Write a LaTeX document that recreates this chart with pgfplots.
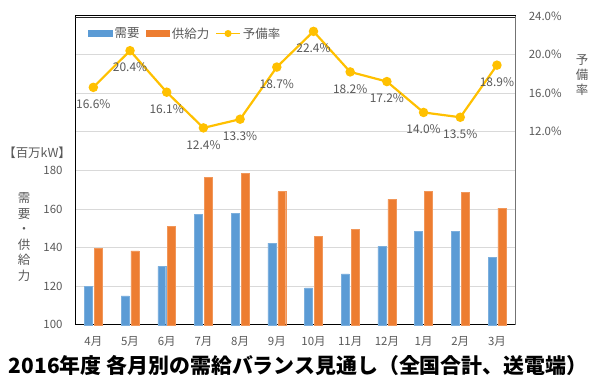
\documentclass[border=0pt]{standalone}
\usepackage{pgfplots}
\pgfplotsset{compat=1.18}
\usepackage{fontspec}
\setmainfont{Noto Sans CJK JP}
\definecolor{cdem}{HTML}{5B9BD5}
\definecolor{csup}{HTML}{ED7D31}
\definecolor{cres}{HTML}{FFC000}
\definecolor{ctxt}{HTML}{595959}
\definecolor{cgrid}{HTML}{D9D9D9}
\pgfplotsset{reslegend/.style={legend image code/.code={\draw[##1, mark repeat=2, mark phase=2] plot coordinates {(0pt,0pt) (12pt,0pt) (24pt,0pt)};}}}
\begin{document}
\begin{tikzpicture}[x=1pt,y=1pt]
\path (0,0) rectangle (595,386);
\begin{axis}[
  at={(73pt,60pt)}, anchor=south west,
  scale only axis, width=442pt, height=310pt,
  xmin=-0.5, xmax=11.5,
  ymin=100, ymax=260,
  xtick={0,...,11},
  xticklabels={4月,5月,6月,7月,8月,9月,10月,11月,12月,1月,2月,3月},
  ytick={100,120,...,240},
  yticklabels={100,120,140,160,180,,,},
  major tick length=0pt,
  ymajorgrids, grid style={cgrid, line width=0.8pt},
  axis line style={black, line width=0.9pt},
  tick label style={font=\fontsize{11.5}{12}\selectfont, text=ctxt},
  /pgf/number format/assume math mode=true,
  xticklabel style={yshift=-8pt},
  yticklabel style={xshift=-9pt},
  legend style={draw=none, fill=none, at={(0.03,0.943)}, anchor=west,
    font=\fontsize{12.5}{13}\selectfont, text=ctxt,
    legend columns=-1, /tikz/every even column/.append style={column sep=4pt},
    inner sep=0pt, cells={anchor=west}},
  legend cell align=left,
  clip=false,
]
\addplot[ybar, bar width=0.217, bar shift=-0.135, fill=cdem, draw=cdem!80!white,
  legend image code/.code={\fill[cdem] (0pt,-3pt) rectangle (24pt,3pt);}]
  coordinates {(0,119.8) (1,115.0) (2,130.3) (3,157.1) (4,157.6) (5,142.3)
               (6,119.1) (7,126.3) (8,140.6) (9,148.5) (10,148.3) (11,134.9)};
\addlegendentry{需要}
\addplot[ybar, bar width=0.217, bar shift=0.135, fill=csup, draw=csup!80!white,
  legend image code/.code={\fill[csup] (0pt,-3pt) rectangle (24pt,3pt);}]
  coordinates {(0,139.6) (1,138.3) (2,151.1) (3,176.5) (4,178.6) (5,169.0)
               (6,145.8) (7,149.5) (8,164.9) (9,169.1) (10,168.5) (11,160.4)};
\addlegendentry{供給力}
\addlegendimage{cres, line width=1.8pt, mark=*, mark size=2.6pt, reslegend}
\addlegendentry{予備率}
\end{axis}
\begin{axis}[
  at={(73pt,60pt)}, anchor=south west,
  scale only axis, width=442pt, height=310pt,
  xmin=-0.5, xmax=11.5,
  ymin=-8, ymax=24,
  axis x line=none,
  axis y line*=right,
  ytick={12,16,20,24},
  yticklabels={12.0\%,16.0\%,20.0\%,24.0\%},
  major tick length=0pt,
  axis line style={draw=black!55, line width=1.2pt},
  tick label style={font=\fontsize{11.5}{12}\selectfont, text=ctxt},
  yticklabel style={xshift=10pt},
  clip=false,
]
\addplot[cres, line width=2.2pt, mark=*, mark size=3.6pt,
  point meta=explicit symbolic,
  nodes near coords={\pgfplotspointmeta\%},
  nodes near coords align={below},
  every node near coord/.append style={font=\fontsize{12}{12}\selectfont, text=ctxt, yshift=-8pt}]
  coordinates {(0,16.6)[16.6] (1,20.4)[20.4] (2,16.1)[16.1] (3,12.4)[12.4]
               (4,13.3)[13.3] (5,18.7)[18.7] (6,22.4)[22.4] (7,18.2)[18.2]
               (8,17.2)[17.2] (9,14.0)[14.0] (10,13.5)[13.5] (11,18.9)[18.9]};
\end{axis}
\draw[black!85, line width=1.3pt] (72.6,368.6) -- (515,368.6);
\node[text=ctxt, font=\fontsize{12.5}{13}\selectfont] at (35,233) {【百万kW】};
\node[text=ctxt, font=\fontsize{12.5}{15.6}\selectfont, align=center] at (22,148) {需\\要\\・\\供\\給\\力};
\node[text=ctxt, font=\fontsize{12.5}{15}\selectfont, align=center] at (582,311) {予\\備\\率};
\node[text=black, font=\bfseries\fontsize{21}{22}\selectfont] at (297,19) {2016年度 各月別の需給バランス見通し（全国合計、送電端）};
\end{tikzpicture}
\end{document}
